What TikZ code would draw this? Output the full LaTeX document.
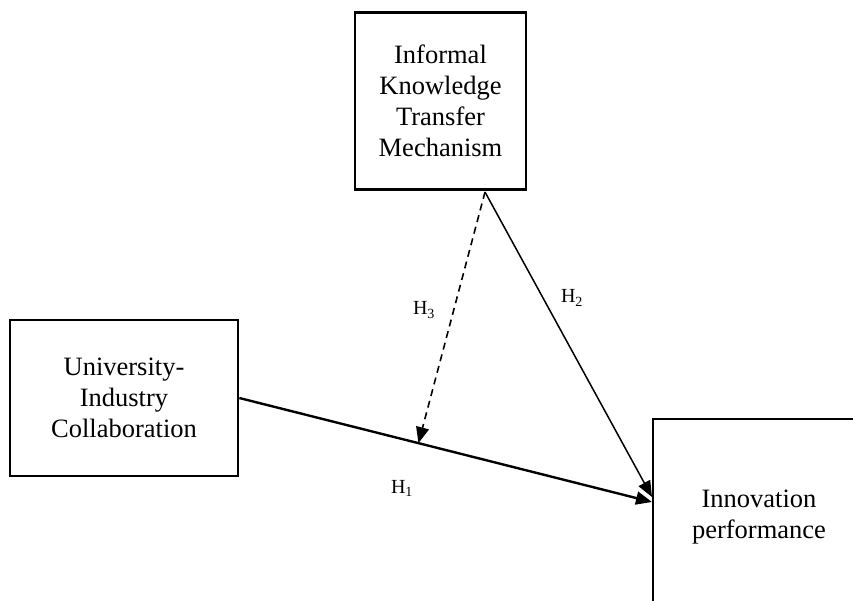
\documentclass[tikz,border=0pt]{standalone}
\usepackage{fontspec}
\setmainfont{Liberation Serif}
\usetikzlibrary{arrows.meta,calc}
\begin{document}
\begin{tikzpicture}[x=1pt,y=-1pt,
  boxstyle/.style={draw,line width=2.7pt,align=center,inner sep=0pt,
    font=\fontsize{26.5}{31}\selectfont},
  hlabel/.style={font=\fontsize{20}{22}\selectfont,inner sep=0pt},
  tip/.style={-{Triangle[length=16pt,width=13pt]}}]
\useasboundingbox (0,0) rectangle (853,600);
\node[boxstyle,minimum width=171pt,minimum height=177pt] (ikt) at (440.5,101)
  {Informal\\Knowledge\\Transfer\\Mechanism};
\node[boxstyle,minimum width=228pt,minimum height=156pt] (uic) at (124,398)
  {University-\\Industry\\Collaboration};
\begin{scope}
\clip (0,0) rectangle (853,600);
\node[boxstyle,minimum width=212pt,minimum height=196pt] (perf) at (759,517)
  {Innovation\\performance};
\end{scope}
\coordinate (src) at (485,192);
\coordinate (t1) at (652,502);
\coordinate (t2) at (652,497);
\coordinate (mid) at ($(uic.east)!0.434!(t1)$);
\draw[tip,line width=2.4pt] (uic.east) -- (t1);
\draw[tip,line width=1.5pt] (src) -- (t2);
\draw[tip,line width=1.6pt,dash pattern=on 7pt off 5pt] (src) -- (mid);
\node[hlabel] (h1) at (402,488) {H\textsubscript{1}};
\node[hlabel] (h2) at (572,298) {H\textsubscript{2}};
\node[hlabel] (h3) at (424,310) {H\textsubscript{3}};
\end{tikzpicture}
\end{document}
